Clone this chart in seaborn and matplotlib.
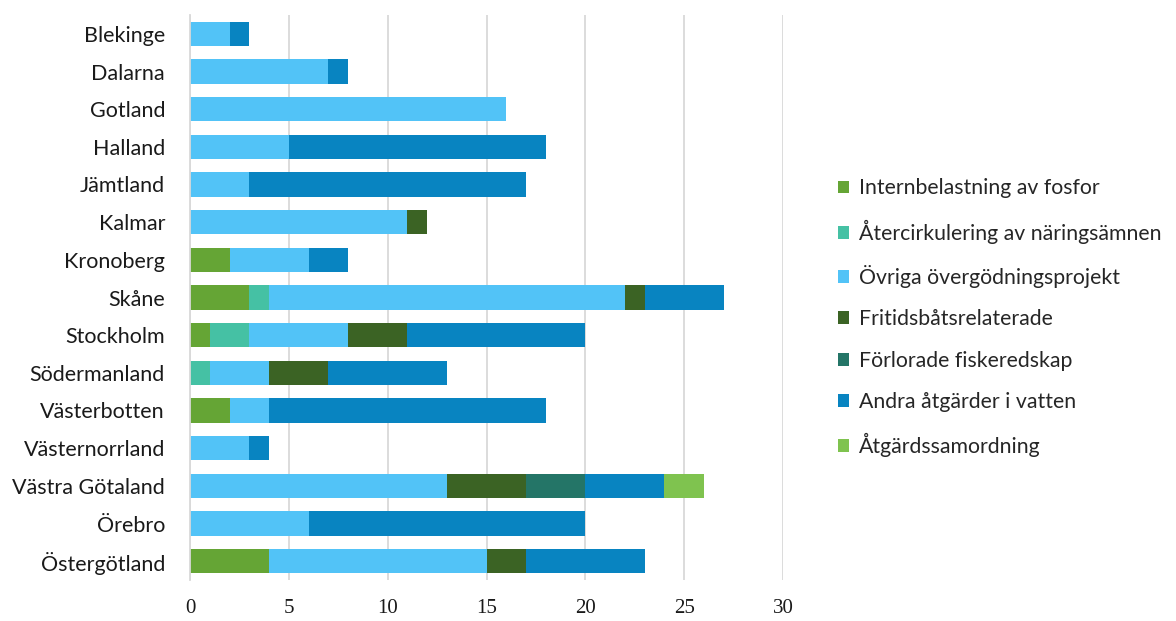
import numpy as np
import pandas as pd
import matplotlib
matplotlib.use("Agg")
import matplotlib.pyplot as plt
from matplotlib.patches import Patch
import seaborn as sns

regions = ["Blekinge", "Dalarna", "Gotland", "Halland", "Jämtland", "Kalmar",
           "Kronoberg", "Skåne", "Stockholm", "Södermanland", "Västerbotten",
           "Västernorrland", "Västra Götaland", "Örebro", "Östergötland"]

series = ["Internbelastning av fosfor", "Återcirkulering av näringsämnen",
          "Övriga övergödningsprojekt", "Fritidsbåtsrelaterade",
          "Förlorade fiskeredskap", "Andra åtgärder i vatten", "Åtgärdssamordning"]

internbelastning = [0, 0, 0, 0, 0, 0, 2, 3, 1, 0, 2, 0, 0, 0, 4]
atercirkulering  = [0, 0, 0, 0, 0, 0, 0, 1, 2, 1, 0, 0, 0, 0, 0]
ovriga           = [2, 7, 16, 5, 3, 11, 4, 18, 5, 3, 2, 3, 13, 6, 11]
fritidsbatar     = [0, 0, 0, 0, 0, 1, 0, 1, 3, 3, 0, 0, 4, 0, 2]
fiskeredskap     = [0, 0, 0, 0, 0, 0, 0, 0, 0, 0, 0, 0, 3, 0, 0]
andra_vatten     = [1, 1, 0, 13, 14, 0, 2, 4, 9, 6, 14, 1, 4, 14, 6]
samordning       = [0, 0, 0, 0, 0, 0, 0, 0, 0, 0, 0, 0, 2, 0, 0]

colors = ["#65A535", "#45C1A4", "#52C3F7", "#3B6324", "#247567", "#0884C1", "#7FC34F"]

df = pd.DataFrame({"region": regions})
for name, vals in zip(series, [internbelastning, atercirkulering, ovriga, fritidsbatar,
                               fiskeredskap, andra_vatten, samordning]):
    df[name] = vals
cum = df[series].cumsum(axis=1)

sns.set_theme(style="white")
plt.rcParams["font.family"] = ["Lato", "DejaVu Sans"]

fig = plt.figure(figsize=(11.76, 6.21), dpi=100)
ax = fig.add_axes([190 / 1176, 1 - 580 / 621, 593 / 1176, 565 / 621])

# stacked bars: draw cumulative totals from the last series to the first
for name, col in reversed(list(zip(series, colors))):
    sns.barplot(x=cum[name], y=df["region"], orient="h", color=col,
                width=0.64, saturation=1, ax=ax, linewidth=0)

ax.set_xlim(0, 30)
ax.set_ylim(14.5, -0.5)
ax.set_xticks(range(0, 31, 5))
ax.set_xlabel("")
ax.set_ylabel("")
ax.grid(axis="x", color="#D9D9D9", linewidth=1.3)
ax.set_axisbelow(True)
for s in ["top", "right", "bottom"]:
    ax.spines[s].set_visible(False)
ax.spines["left"].set_color("#D9D9D9")
ax.spines["left"].set_linewidth(1.3)
ax.tick_params(axis="y", length=0, pad=18, labelsize=15.5, labelcolor="#1a1a1a")
ax.tick_params(axis="x", length=0, pad=14, labelsize=15, labelcolor="#1a1a1a")
for lab in ax.get_xticklabels():
    lab.set_family(["Liberation Serif", "DejaVu Serif"])

handles = [Patch(facecolor=c, edgecolor="none") for c in colors]
fig.legend(handles, series, loc="upper left", bbox_to_anchor=(829 / 1176, 1 - 170 / 621),
           frameon=False, fontsize=15.3, handlelength=0.55, handleheight=0.55,
           handletextpad=0.45, labelspacing=1.0, borderaxespad=0)

fig.savefig("out.png", dpi=100)
